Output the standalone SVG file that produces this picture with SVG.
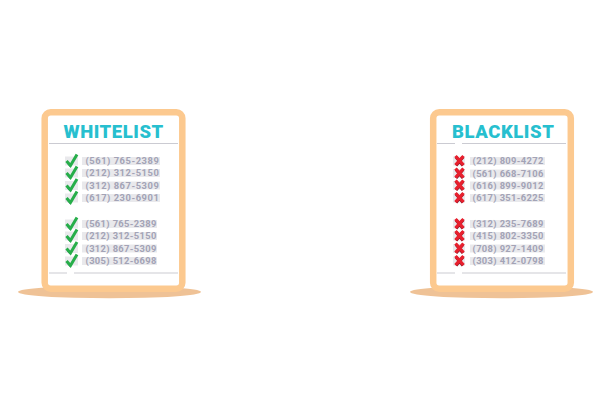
<svg xmlns="http://www.w3.org/2000/svg" width="600" height="400" viewBox="0 0 600 400">
<style>
.shadow{fill:#efc296}
.card{fill:#fff;stroke:#fcc98f;stroke-width:6.5}
.title{font-family:Roboto,"Liberation Sans",sans-serif;font-weight:900;font-size:18.5px;fill:#27bfcf;letter-spacing:.55px}
.rule{stroke:#cbcbd2;stroke-width:1.2;fill:none}
.band{fill:#e9e9ec}
.num{font-family:Roboto,"Liberation Sans",sans-serif;font-weight:700;font-size:9.4px;fill:#a3a3b6;letter-spacing:.35px}
.wide{letter-spacing:.53px}
.ck{fill:none;stroke:#27ae4a;stroke-width:3}
.ckd{fill:none;stroke:#1e6f5c;stroke-width:2.2}
.x{fill:none;stroke:#e8202e;stroke-width:3.2}
.xd{fill:none;stroke:#8e1a2c;stroke-width:3.2}
</style>
<defs>
<g id="check"><rect class="band" x="-6" y="-4.5" width="13" height="9"/><path class="ckd" d="M-3.500 1.500L-0.500 5"/><path class="ck" d="M-4.500 0L-0.500 4.500L6 -6.500"/></g>
<g id="cross"><rect class="band" x="-6.500" y="-4.500" width="12" height="9"/><path class="xd" d="M-3.500 -4L3.500 4.500M3.500 -4L-3.500 4.500"/><path class="x" d="M-4 -5L4 4M4 -5L-4 4"/></g>
</defs>
<g id="whitelist">
<ellipse class="shadow" cx="109.500" cy="292" rx="91.500" ry="6.300"/>
<rect class="card" x="44.700" y="112.200" width="137.600" height="176.600" rx="6"/>
<text class="title" x="63.500" y="138">WHITELIST</text>
<path class="rule" d="M49 143.500H178M49 273H67M74 273H178"/>
<g id="whitelist-row1"><use href="#check" x="71" y="161"/><rect class="band" x="82" y="157" width="78" height="8"/><text class="num wide" x="85.500" y="164.300">(561) 765-2389</text></g>
<g id="whitelist-row2"><use href="#check" x="71" y="173"/><rect class="band" x="82" y="169" width="78" height="8"/><text class="num wide" x="85.500" y="176.300">(212) 312-5150</text></g>
<g id="whitelist-row3"><use href="#check" x="71" y="185.500"/><rect class="band" x="82" y="181.500" width="78" height="8"/><text class="num wide" x="85.500" y="188.800">(312) 867-5309</text></g>
<g id="whitelist-row4"><use href="#check" x="71" y="198"/><rect class="band" x="82" y="194" width="78" height="8"/><text class="num wide" x="85.500" y="201.300">(617) 230-6901</text></g>
<g id="whitelist-row5"><use href="#check" x="71" y="224"/><rect class="band" x="82" y="220" width="75" height="8"/><text class="num" x="85.500" y="227.300">(561) 765-2389</text></g>
<g id="whitelist-row6"><use href="#check" x="71" y="236"/><rect class="band" x="82" y="232" width="75" height="8"/><text class="num" x="85.500" y="239.300">(212) 312-5150</text></g>
<g id="whitelist-row7"><use href="#check" x="71" y="248.500"/><rect class="band" x="82" y="244.500" width="75" height="8"/><text class="num" x="85.500" y="251.800">(312) 867-5309</text></g>
<g id="whitelist-row8"><use href="#check" x="71" y="261"/><rect class="band" x="82" y="257" width="75" height="8"/><text class="num" x="85.500" y="264.300">(305) 512-6698</text></g>
</g>
<g id="blacklist">
<ellipse class="shadow" cx="501.500" cy="292" rx="91.500" ry="6.300"/>
<rect class="card" x="433.200" y="112.200" width="137.600" height="176.600" rx="6"/>
<text class="title" x="452" y="138">BLACKLIST</text>
<path class="rule" d="M437 143.500H455M462 143.500H566M437 273H455M462 273H566"/>
<g id="blacklist-row1"><use href="#cross" x="459.500" y="161"/><rect class="band" x="470" y="157" width="75" height="8"/><text class="num" x="472.500" y="164.300">(212) 809-4272</text></g>
<g id="blacklist-row2"><use href="#cross" x="459.500" y="173.500"/><rect class="band" x="470" y="169.500" width="75" height="8"/><text class="num" x="472.500" y="176.800">(561) 668-7106</text></g>
<g id="blacklist-row3"><use href="#cross" x="459.500" y="185.500"/><rect class="band" x="470" y="181.500" width="75" height="8"/><text class="num" x="472.500" y="188.800">(616) 899-9012</text></g>
<g id="blacklist-row4"><use href="#cross" x="459.500" y="198"/><rect class="band" x="470" y="194" width="75" height="8"/><text class="num" x="472.500" y="201.300">(617) 351-6225</text></g>
<g id="blacklist-row5"><use href="#cross" x="459.500" y="224"/><rect class="band" x="470" y="220" width="75" height="8"/><text class="num" x="472.500" y="227.300">(312) 235-7689</text></g>
<g id="blacklist-row6"><use href="#cross" x="459.500" y="236"/><rect class="band" x="470" y="232" width="75" height="8"/><text class="num" x="472.500" y="239.300">(415) 802-3350</text></g>
<g id="blacklist-row7"><use href="#cross" x="459.500" y="248.500"/><rect class="band" x="470" y="244.500" width="75" height="8"/><text class="num" x="472.500" y="251.800">(708) 927-1409</text></g>
<g id="blacklist-row8"><use href="#cross" x="459.500" y="261"/><rect class="band" x="470" y="257" width="75" height="8"/><text class="num" x="472.500" y="264.300">(303) 412-0798</text></g>
</g>
</svg>
